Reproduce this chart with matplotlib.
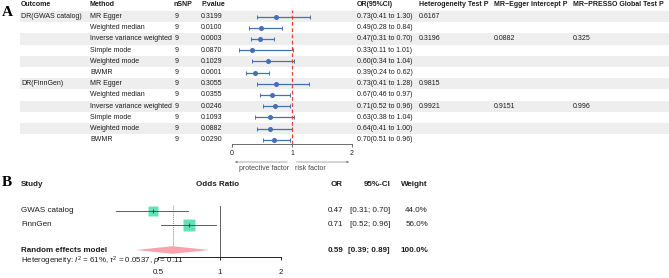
import matplotlib
matplotlib.use("Agg")
import matplotlib.pyplot as plt
from matplotlib import transforms
from matplotlib.patches import Polygon

plt.rcParams['font.family'] = ['Liberation Sans', 'DejaVu Sans']
plt.rcParams['mathtext.fontset'] = 'custom'
plt.rcParams['mathtext.rm'] = 'Liberation Sans'
plt.rcParams['mathtext.it'] = 'Liberation Sans:italic'

# ---- panel A data ----
outcomes = ["DR(GWAS catalog)", "", "", "", "", "",
            "DR(FinnGen)", "", "", "", "", ""]
methods = ["MR Egger", "Weighted median", "Inverse variance weighted",
           "Simple mode", "Weighted mode", "BWMR"] * 2
nsnp = [9] * 12
pvals = ["0.3199", "0.0100", "0.0003", "0.0870", "0.1029", "0.0001",
         "0.3055", "0.0355", "0.0246", "0.1093", "0.0882", "0.0290"]
or_est = [0.73, 0.49, 0.47, 0.33, 0.60, 0.39, 0.73, 0.67, 0.71, 0.63, 0.64, 0.70]
or_lo = [0.41, 0.28, 0.31, 0.11, 0.34, 0.24, 0.41, 0.46, 0.52, 0.38, 0.41, 0.51]
or_hi = [1.30, 0.84, 0.70, 1.01, 1.04, 0.62, 1.28, 0.97, 0.96, 1.04, 1.00, 0.96]
het_p = ["0.6167", "", "0.3196", "", "", "", "0.9815", "", "0.9921", "", "", ""]
egger_p = ["", "", "0.0882", "", "", "", "", "", "0.9151", "", "", ""]
presso_p = ["", "", "0.325", "", "", "", "", "", "0.996", "", "", ""]
a_ticks = [0, 1, 2]

# ---- panel B data ----
studies = ["GWAS catalog", "FinnGen"]
b_or = [0.47, 0.71]
b_lo = [0.31, 0.52]
b_hi = [0.70, 0.96]
b_w = [44.0, 56.0]
re_or, re_lo, re_hi = 0.59, 0.39, 0.89
het_text = r"Heterogeneity: $I^2$ = 61%, $\tau^2$ = 0.0537, $p$ = 0.11"
b_ticks = [0.5, 1, 2]

W, H = 669, 278
fig = plt.figure(figsize=(W / 100, H / 100), dpi=100)
ax = fig.add_axes([0, 0, 1, 1])
ax.set_xlim(0, W)
ax.set_ylim(H, 0)
ax.axis('off')


def box(x0, y0, x1, y1):
    return [x0 / W, 1 - y1 / H, (x1 - x0) / W, (y1 - y0) / H]


txt = '#1c1c1c'
fs_a = 5.0
fs_b = 5.8

# ---- panel A ----
row0, rstep = 16.5, 11.2
axa = fig.add_axes(box(232, 10, 352, 144))
axa.patch.set_visible(False)
axa.set_xlim(0, 2)
axa.set_ylim((144 - row0) / rstep, (10 - row0) / rstep)
tra = transforms.blended_transform_factory(ax.transData, axa.transData)

n = len(methods)
rows = list(range(n))
for i in rows:
    if i % 2 == 0:
        ax.add_patch(plt.Rectangle((20, i - 0.5), W - 20, 1.0, transform=tra,
                                   color='#EEEEEE', lw=0, zorder=0))

hy = (5 - row0) / rstep
headers = [(21, "Outcome"), (90, "Method"), (174, "nSNP"), (201, "P.value"),
           (357, "OR(95%CI)"), (419, "Heterogeneity Test P"),
           (494, "MR\u2212Egger Intercept P"), (573, "MR\u2212PRESSO Global Test P")]
for x, h in headers:
    ax.text(x, hy, h, transform=tra, fontsize=fs_a, fontweight='bold',
            color=txt, va='center', ha='left')

for i in rows:
    ci = f"{or_est[i]:.2f}({or_lo[i]:.2f} to {or_hi[i]:.2f})"
    for x, s in [(21, outcomes[i]), (90, methods[i]), (175, str(nsnp[i])),
                 (201, pvals[i]), (357, ci), (419, het_p[i]),
                 (494, egger_p[i]), (573, presso_p[i])]:
        if s:
            ax.text(x, i, s, transform=tra, fontsize=fs_a, color=txt,
                    va='center', ha='left')

blue = '#4670B6'
xerr = [[e - l for e, l in zip(or_est, or_lo)], [h - e for e, h in zip(or_est, or_hi)]]
axa.errorbar(or_est, rows, xerr=xerr, fmt='o', color=blue, ms=2.6,
             elinewidth=0.9, capsize=1.3, capthick=0.7, clip_on=False, zorder=3)
axa.axvline(1, color='#E8413B', lw=0.9, ls=(0, (3, 2)), zorder=4)

for s in ['top', 'right', 'left']:
    axa.spines[s].set_visible(False)
axa.spines['bottom'].set_linewidth(0.6)
axa.spines['bottom'].set_color('#555555')
axa.set_yticks([])
axa.set_xticks(a_ticks)
axa.set_xticklabels([str(t) for t in a_ticks])
axa.tick_params(axis='x', length=2.5, width=0.6, color='#555555',
                labelsize=fs_a, labelcolor=txt, pad=1.5)

ay = (162 - row0) / rstep
arr = dict(arrowstyle='-|>', lw=0.5, color='#888888', mutation_scale=3)
axa.annotate("", xy=(0, ay), xytext=(0.97, ay), arrowprops=arr, annotation_clip=False)
axa.annotate("", xy=(2, ay), xytext=(1.03, ay), arrowprops=arr, annotation_clip=False)
ty = (168.5 - row0) / rstep
axa.text(0.95, ty, "protective factor", fontsize=fs_a, color='#444444',
         ha='right', va='center', clip_on=False)
axa.text(1.05, ty, "risk factor", fontsize=fs_a, color='#444444',
         ha='left', va='center', clip_on=False)

ax.text(2, 12, "A", fontsize=11, fontweight='bold', family='Liberation Serif',
        va='center', ha='left', color='black')

# ---- panel B ----
b0, bstep = 211, 14
axb = fig.add_axes(box(96.5, 200, 300.8, 257))
axb.patch.set_visible(False)
axb.set_xscale('log', base=2)
axb.set_xlim(0.25, 2.5)
axb.set_ylim((257 - b0) / bstep, (200 - b0) / bstep)
trb = transforms.blended_transform_factory(ax.transData, axb.transData)
re_row = (250 - b0) / bstep

for s in ['top', 'right', 'left']:
    axb.spines[s].set_visible(False)
axb.spines['bottom'].set_bounds(0.5, 2)
axb.spines['bottom'].set_linewidth(0.6)
axb.set_yticks([])
axb.set_xticks(b_ticks)
axb.set_xticklabels([str(t) for t in b_ticks])
axb.xaxis.set_minor_locator(plt.NullLocator())
axb.tick_params(axis='x', length=2.5, width=0.6, labelsize=fs_b,
                labelcolor=txt, pad=6)

axb.axvline(1, color='#444444', lw=0.6, ymin=0, ymax=0.9, zorder=1)
axb.vlines(re_or, (205 - b0) / bstep, re_row - 0.25, color='#888888',
           lw=0.7, ls=(0, (1, 1)), zorder=1)

for j in range(len(studies)):
    axb.plot([b_lo[j], b_hi[j]], [j, j], color='#444444', lw=0.6, zorder=3)
    axb.plot(b_or[j], j, marker='s', ms=7.2 * (b_w[j] / 44.0) ** 0.5,
             color='#66E2B8', mec='none', zorder=2)
    axb.plot(b_or[j], j, marker='|', ms=3, mew=0.6, color='#333333', zorder=4)

dh = 0.27
axb.add_patch(Polygon([(re_lo, re_row), (re_or, re_row - dh),
                       (re_hi, re_row), (re_or, re_row + dh)],
                      closed=True, color='#F7A3AD', lw=0, zorder=2))

x_or, x_ci, x_w = 343, 390, 428
hb = (185 - b0) / bstep
ax.text(21, hb, "Study", transform=trb, fontsize=fs_b, fontweight='bold',
        color=txt, va='center')
ax.text(218, hb, "Odds Ratio", transform=trb, fontsize=fs_b, fontweight='bold',
        color=txt, va='center', ha='center')
for x, h in [(x_or, "OR"), (x_ci, "95%-CI"), (x_w, "Weight")]:
    ax.text(x, hb, h, transform=trb, fontsize=fs_b, fontweight='bold',
            color=txt, va='center', ha='right')

for j, st in enumerate(studies):
    ax.text(21, j, st, transform=trb, fontsize=fs_b, color=txt, va='center')
    ax.text(x_or, j, f"{b_or[j]:.2f}", transform=trb, fontsize=fs_b, color=txt,
            va='center', ha='right')
    ax.text(x_ci, j, f"[{b_lo[j]:.2f}; {b_hi[j]:.2f}]", transform=trb,
            fontsize=fs_b, color=txt, va='center', ha='right')
    ax.text(x_w, j, f"{b_w[j]:.1f}%", transform=trb, fontsize=fs_b, color=txt,
            va='center', ha='right')

ax.text(21, re_row, "Random effects model", transform=trb, fontsize=fs_b,
        fontweight='bold', color=txt, va='center')
ax.text(x_or, re_row, f"{re_or:.2f}", transform=trb, fontsize=fs_b,
        fontweight='bold', color=txt, va='center', ha='right')
ax.text(x_ci, re_row, f"[{re_lo:.2f}; {re_hi:.2f}]", transform=trb,
        fontsize=fs_b, fontweight='bold', color=txt, va='center', ha='right')
ax.text(x_w, re_row, f"{sum(b_w):.1f}%", transform=trb, fontsize=fs_b,
        fontweight='bold', color=txt, va='center', ha='right')
ax.text(21, (261 - b0) / bstep, het_text, transform=trb, fontsize=fs_b - 0.1,
        color=txt, va='center')

ax.text(2, 183, "B", fontsize=11, fontweight='bold', family='Liberation Serif',
        va='center', ha='left', color='black')

fig.savefig("out.png", dpi=100)
